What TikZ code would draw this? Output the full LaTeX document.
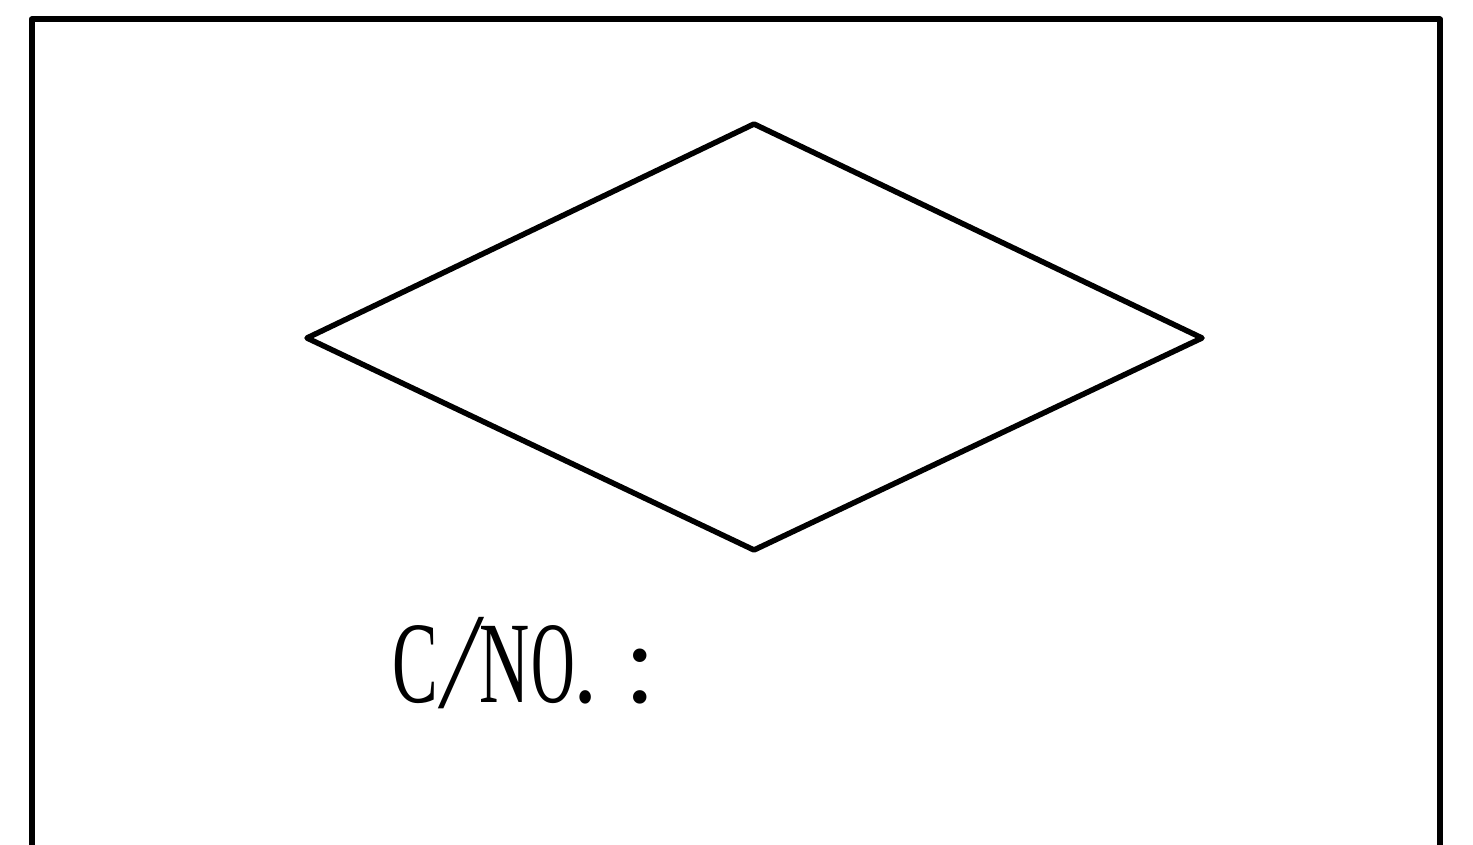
\documentclass[tikz,border=0pt]{standalone}
\usepackage{fontspec}
\setmainfont{Liberation Serif}
\begin{document}
\begin{tikzpicture}[x=1pt,y=-1pt,
  frame/.style={draw=black,line width=6pt,line join=round},
  shapeline/.style={draw=black,line width=5.5pt,line join=round},
  glyph/.style={anchor=base west,inner sep=0pt,font=\fontsize{114}{114}\selectfont}]
\useasboundingbox (0,0) rectangle (1473,845);
\clip (0,0) rectangle (1473,845);
\fill[white] (0,0) rectangle (1473,845);
\draw[frame] (31.5,19.5) rectangle (1440,900);
\coordinate (L) at (307,338);
\coordinate (T) at (754,124);
\coordinate (R) at (1202,338);
\coordinate (B) at (754,550);
\draw[shapeline] (L) -- (T) -- (R) -- (B) -- cycle;
\node[glyph] (c) at (392,702) {\scalebox{0.6}[1.02]{C}};
\node[glyph,xslant=0.16,yscale=1.2,transform shape] (sl) at (438,707) {/};
\node[glyph] (n) at (479,702) {\scalebox{0.61}[1.02]{N}};
\node[glyph] (o) at (531,702) {\scalebox{0.53}[1.02]{O}};
\node[glyph] (dot) at (573,702) {\scalebox{0.85}[1]{.}};
\node[glyph] (colon) at (624,702) {:};
\end{tikzpicture}
\end{document}
